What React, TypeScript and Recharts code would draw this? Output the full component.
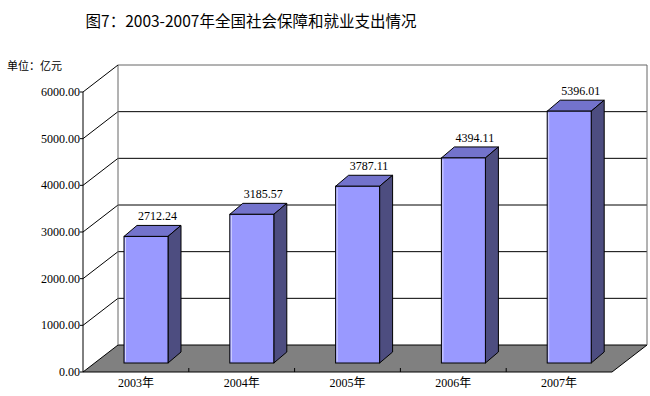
import React from 'react';
import { BarChart, Bar, XAxis, YAxis, CartesianGrid, LabelList } from 'recharts';

const categories = ['2003年', '2004年', '2005年', '2006年', '2007年'];
const values = [2712.24, 3185.57, 3787.11, 4394.11, 5396.01];
const yTicks = [0, 1000, 2000, 3000, 4000, 5000, 6000];
const title = '图7：2003-2007年全国社会保障和就业支出情况';
const unitLabel = '单位：亿元';

const data = categories.map((c, i) => ({ name: c, value: values[i] }));

const W = 650;
const H = 396;
const AXIS_X = 83;
const RIGHT_M = 38;
const TOP_M = 92;
const X_AXIS_H = 24;
const PLOT_W = W - AXIS_X - RIGHT_M;
const PLOT_H = H - TOP_M - X_AXIS_H;
const AXIS_Y = TOP_M + PLOT_H;
const BAND = PLOT_W / categories.length;
const DX = 35; // wall depth
const DY = 27;
const SX = 10; // bar depth position shift
const SY = 9;
const BDX = 13; // bar depth
const BDY = 11;

const numFont = '"Liberation Serif", "Noto Sans CJK SC", serif';
const cjkFont = '"Noto Sans CJK SC", sans-serif';

const gridLine = (props: any) => {
  const { x1, x2, y1 } = props;
  const y = y1;
  const bx1 = x1 + DX;
  const bx2 = x2 + DX;
  const by = y - DY;
  const isBottom = Math.abs(y - AXIS_Y) < 0.5;
  const isTop = Math.abs(y - TOP_M) < 0.5;
  return (
    <g key={`g-${y}`}>
      {isBottom && (
        <polygon
          points={`${x1},${y} ${x2},${y} ${bx2},${by} ${bx1},${by}`}
          fill="#808080"
          stroke="none"
        />
      )}
      {isBottom && <line x1={x2} y1={y} x2={bx2} y2={by} stroke="#000" strokeWidth={1} />}
      {isTop && <line x1={bx1} y1={by} x2={bx1} y2={by + PLOT_H} stroke="#666" strokeWidth={1} />}
      {isTop && <line x1={bx2} y1={by} x2={bx2} y2={by + PLOT_H} stroke="#666" strokeWidth={1} />}
      <line x1={x1} y1={y} x2={bx1} y2={by} stroke="#000" strokeWidth={1} />
      <line x1={bx1} y1={by} x2={bx2} y2={by} stroke={isTop ? '#666' : '#000'} strokeWidth={1} />
    </g>
  );
};

const Bar3D = (props: any) => {
  const { x, y, width, height } = props;
  const fx = x + SX;
  const fy = y - SY;
  const w = width;
  const h = height;
  return (
    <g>
      <polygon
        points={`${fx},${fy} ${fx + BDX},${fy - BDY} ${fx + w + BDX},${fy - BDY} ${fx + w},${fy}`}
        fill="#7373CC"
        stroke="#000"
        strokeWidth={1}
      />
      <polygon
        points={`${fx + w},${fy} ${fx + w + BDX},${fy - BDY} ${fx + w + BDX},${fy + h - BDY} ${fx + w},${fy + h}`}
        fill="#4D4D80"
        stroke="#000"
        strokeWidth={1}
      />
      <rect x={fx} y={fy} width={w} height={h} fill="#9999FF" stroke="#000" strokeWidth={1} />
      <line x1={fx + 1.5} y1={fy + 1.5} x2={fx + 1.5} y2={fy + h - 1.5} stroke="#fff" strokeWidth={1} opacity={0.6} />
    </g>
  );
};

const YTick = (props: any) => {
  const { y, payload } = props;
  return (
    <g>
      <line x1={AXIS_X - 3} y1={y} x2={AXIS_X} y2={y} stroke="#000" />
      <text
        x={AXIS_X - 3}
        y={y + 4}
        textAnchor="end"
        fontFamily={numFont}
        fontSize={12}
        fill="#000"
      >
        {Number(payload.value).toFixed(2)}
      </text>
    </g>
  );
};

const XTick = (props: any) => {
  const { x, payload, index } = props;
  return (
    <g>
      {index < categories.length - 1 && (
        <line x1={x + BAND / 2} y1={AXIS_Y - 4} x2={x + BAND / 2} y2={AXIS_Y} stroke="#000" />
      )}
      <text x={x} y={AXIS_Y + 15} textAnchor="middle" fontFamily={numFont} fontSize={12} fill="#000">
        {payload.value}
      </text>
    </g>
  );
};

const ValueLabel = (props: any) => {
  const { x, y, width, value } = props;
  return (
    <text
      x={x + width / 2 + SX + BDX / 2 + 5}
      y={y - SY - 16}
      textAnchor="middle"
      fontFamily={numFont}
      fontSize={12}
      fill="#000"
    >
      {Number(value).toFixed(2)}
    </text>
  );
};

export default function App() {
  return (
    <div style={{ position: 'absolute', left: 0, top: 0, width: W, height: H, background: '#fff' }}>
      <svg width={W} height={H} style={{ position: 'absolute', left: 0, top: 0 }}>
        <text x={251} y={27} textAnchor="middle" fontFamily={cjkFont} fontSize={15.5} fill="#000">
          {title}
        </text>
        <text x={7} y={70} fontFamily={cjkFont} fontSize={11} fill="#000">
          {unitLabel}
        </text>
      </svg>
      <div style={{ position: 'absolute', left: 0, top: 0 }}>
        <BarChart
          width={W}
          height={H}
          data={data}
          margin={{ top: TOP_M, right: RIGHT_M, bottom: 0, left: 0 }}
          barSize={44}
        >
          <CartesianGrid vertical={false} horizontal={gridLine} />
          <XAxis
            dataKey="name"
            height={X_AXIS_H}
            axisLine={{ stroke: '#000' }}
            tickLine={false}
            tick={<XTick />}
            interval={0}
          />
          <YAxis
            width={AXIS_X}
            domain={[0, 6000]}
            ticks={yTicks}
            axisLine={{ stroke: '#000' }}
            tickLine={false}
            tick={<YTick />}
            interval={0}
          />
          <Bar dataKey="value" isAnimationActive={false} shape={<Bar3D />}>
            <LabelList dataKey="value" content={<ValueLabel />} />
          </Bar>
        </BarChart>
      </div>
    </div>
  );
}
